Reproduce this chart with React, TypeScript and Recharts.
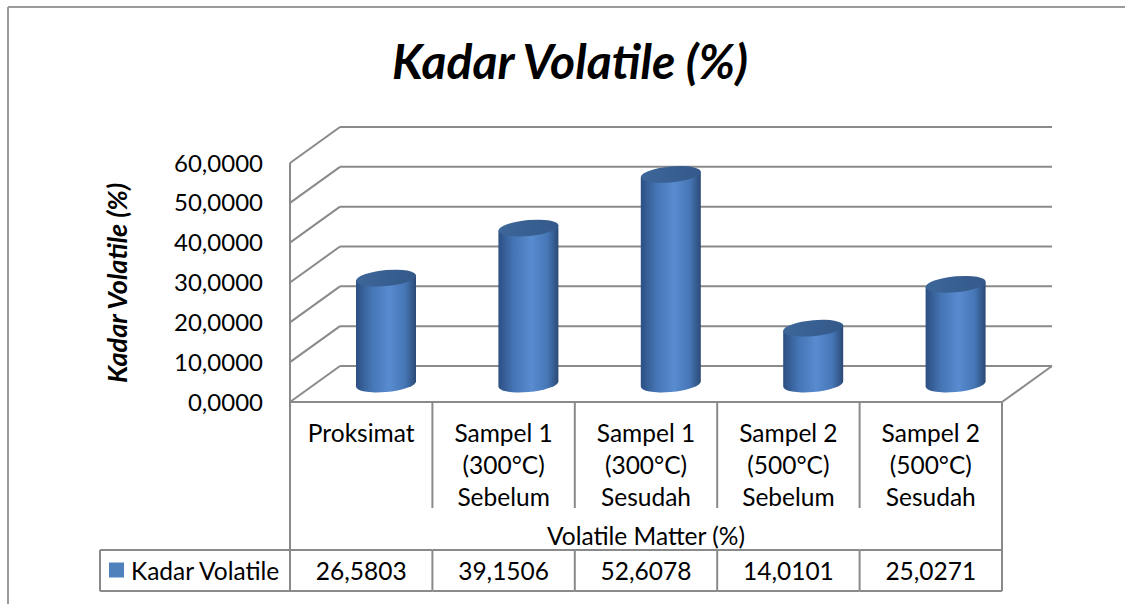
import { BarChart, Bar, XAxis, YAxis, CartesianGrid } from 'recharts';

const categoryLines: string[][] = [
    ['Proksimat'],
    ['Sampel 1', '(300°C)', 'Sebelum'],
    ['Sampel 1', '(300°C)', 'Sesudah'],
    ['Sampel 2', '(500°C)', 'Sebelum'],
    ['Sampel 2', '(500°C)', 'Sesudah'],
];
const kadarVolatile = [26.5803, 39.1506, 52.6078, 14.0101, 25.0271];
const yTicks = [0, 10, 20, 30, 40, 50, 60];

const seriesName = 'Kadar Volatile';
const chartTitle = 'Kadar Volatile (%)';
const yTitle = 'Kadar Volatile (%)';
const xTitle = 'Volatile Matter (%)';

const data = categoryLines.map((lines, i) => ({ name: lines.join(' '), value: kadarVolatile[i] }));

// layout of the "3D" box
const W = 1125;
const H = 604;
const PLOT_LEFT = 290;
const PLOT_RIGHT = 1002;
const PLOT_TOP = 163;
const PLOT_BOTTOM = 402;
const DX = 50; // depth offset
const DY = 36;
const LINE = '#8a8a8a';
const FONT = "Lato, 'Open Sans', sans-serif";
const BAR_SIZE = 60;
const TABLE_FS = 24.5;

const fmt = (v: number) => v.toFixed(4).replace('.', ',');

const Cylinder = (props: any) => {
    const { x, y, width, height, index } = props;
    const cx = x + width / 2 + DX / 2;
    const rx = width / 2;
    const ry = 8;
    const top = y - DY / 2;
    const base = y + height - DY / 2;
    const id = `cyl-${index}`;
    return (
        <g transform={`translate(${cx},0) skewY(-5) translate(${-cx},0)`}>
            <defs>
                <linearGradient id={id} x1="0" y1="0" x2="1" y2="0">
                    <stop offset="0%" stopColor="#2c4f82" />
                    <stop offset="25%" stopColor="#4474b3" />
                    <stop offset="55%" stopColor="#588bd0" />
                    <stop offset="82%" stopColor="#4676b5" />
                    <stop offset="100%" stopColor="#2b4a76" />
                </linearGradient>
                <linearGradient id={`${id}t`} x1="0" y1="0" x2="1" y2="0">
                    <stop offset="0%" stopColor="#3d6699" />
                    <stop offset="100%" stopColor="#34598a" />
                </linearGradient>
            </defs>
            <path
                d={`M${cx - rx},${top} L${cx - rx},${base} A${rx},${ry} 0 0 0 ${cx + rx},${base} L${cx + rx},${top} Z`}
                fill={`url(#${id})`}
            />
            <ellipse cx={cx} cy={top} rx={rx} ry={ry} fill={`url(#${id}t)`} />
        </g>
    );
};

const GridLine = (props: any) => {
    const { x1, x2, y1 } = props;
    const bx1 = x1 + DX;
    const bx2 = x2 + DX;
    const by = y1 - DY;
    const isFloor = Math.abs(y1 - PLOT_BOTTOM) < 1;
    return (
        <g key={`grid-${props.index}`} stroke={LINE} strokeWidth={2} fill="none">
            <line x1={x1} y1={y1} x2={bx1} y2={by} />
            <line x1={bx1} y1={by} x2={bx2} y2={by} />
            {isFloor && <line x1={x1} y1={y1} x2={x2} y2={y1} />}
            {isFloor && <line x1={x2} y1={y1} x2={bx2} y2={by} />}
        </g>
    );
};

const TableTick = (props: any) => {
    const { x, y, index } = props;
    const bw = (PLOT_RIGHT - PLOT_LEFT) / categoryLines.length;
    const left = x - bw / 2;
    const right = x + bw / 2;
    const lines = categoryLines[index] || [];
    const rowTop = y + 148;
    const rowBottom = y + 189;
    const last = index === categoryLines.length - 1;
    return (
        <g fontFamily={FONT} fontSize={TABLE_FS} fill="#000">
            {lines.map((t, i) => (
                <text key={i} x={x} y={y + 30 + i * 32} textAnchor="middle" dominantBaseline="central">
                    {t}
                </text>
            ))}
            <text x={x} y={(rowTop + rowBottom) / 2} textAnchor="middle" dominantBaseline="central">
                {fmt(kadarVolatile[index])}
            </text>
            <g stroke={LINE} strokeWidth={2}>
                {index === 0 ? (
                    <line x1={left} y1={y} x2={left} y2={rowBottom} />
                ) : (
                    <>
                        <line x1={left} y1={y} x2={left} y2={y + 106} />
                        <line x1={left} y1={rowTop} x2={left} y2={rowBottom} />
                    </>
                )}
                {last && <line x1={right} y1={y} x2={right} y2={rowBottom} />}
                <line x1={left} y1={rowTop} x2={right} y2={rowTop} />
                <line x1={left} y1={rowBottom} x2={right} y2={rowBottom} />
            </g>
            {index === 0 && (
                <g>
                    <g stroke={LINE} strokeWidth={2}>
                        <line x1={100} y1={rowTop} x2={left} y2={rowTop} />
                        <line x1={100} y1={rowBottom} x2={left} y2={rowBottom} />
                        <line x1={100} y1={rowTop} x2={100} y2={rowBottom} />
                    </g>
                    <rect x={109} y={(rowTop + rowBottom) / 2 - 8} width={15} height={15} fill="#4f81bd" />
                    <text x={131} y={(rowTop + rowBottom) / 2} dominantBaseline="central">
                        {seriesName}
                    </text>
                </g>
            )}
            {index === 2 && (
                <text x={x} y={y + 133} textAnchor="middle" dominantBaseline="central">
                    {xTitle}
                </text>
            )}
        </g>
    );
};

export default function App() {
    return (
        <div style={{ position: 'absolute', left: 0, top: 0, width: W, height: H, overflow: 'hidden', background: '#fff' }}>
            <BarChart
                width={W}
                height={H}
                data={data}
                margin={{ top: PLOT_TOP, right: W - PLOT_RIGHT, bottom: 0, left: PLOT_LEFT - 100 }}
            >
                <line x1={8} y1={7} x2={8} y2={H} stroke="#9a9a9a" strokeWidth={2} />
                <line x1={8} y1={7} x2={W} y2={7} stroke="#9a9a9a" strokeWidth={2} />
                <text
                    x={570}
                    y={79}
                    textAnchor="middle"
                    fontFamily={FONT}
                    fontWeight="bold"
                    fontStyle="italic"
                    fontSize={48}
                    fill="#000"
                >
                    {chartTitle}
                </text>
                <text
                    x={116}
                    y={283}
                    transform="rotate(-90 116 283)"
                    textAnchor="middle"
                    dominantBaseline="central"
                    fontFamily={FONT}
                    fontWeight="bold"
                    fontStyle="italic"
                    fontSize={27}
                    fill="#000"
                >
                    {yTitle}
                </text>
                <CartesianGrid vertical={false} horizontal={GridLine} />
                <YAxis
                    width={100}
                    domain={[0, 60]}
                    ticks={yTicks}
                    interval={0}
                    tickFormatter={fmt}
                    tickLine={false}
                    tickSize={0}
                    tickMargin={27}
                    axisLine={{ stroke: LINE, strokeWidth: 2 }}
                    tick={{ fill: '#000', fontSize: 24, fontFamily: FONT }}
                />
                <XAxis
                    dataKey="name"
                    height={H - PLOT_BOTTOM}
                    interval={0}
                    tickLine={false}
                    axisLine={false}
                    tickSize={0}
                    tickMargin={0}
                    tick={TableTick}
                />
                <Bar dataKey="value" barSize={BAR_SIZE} shape={Cylinder} isAnimationActive={false} />
            </BarChart>
        </div>
    );
}
